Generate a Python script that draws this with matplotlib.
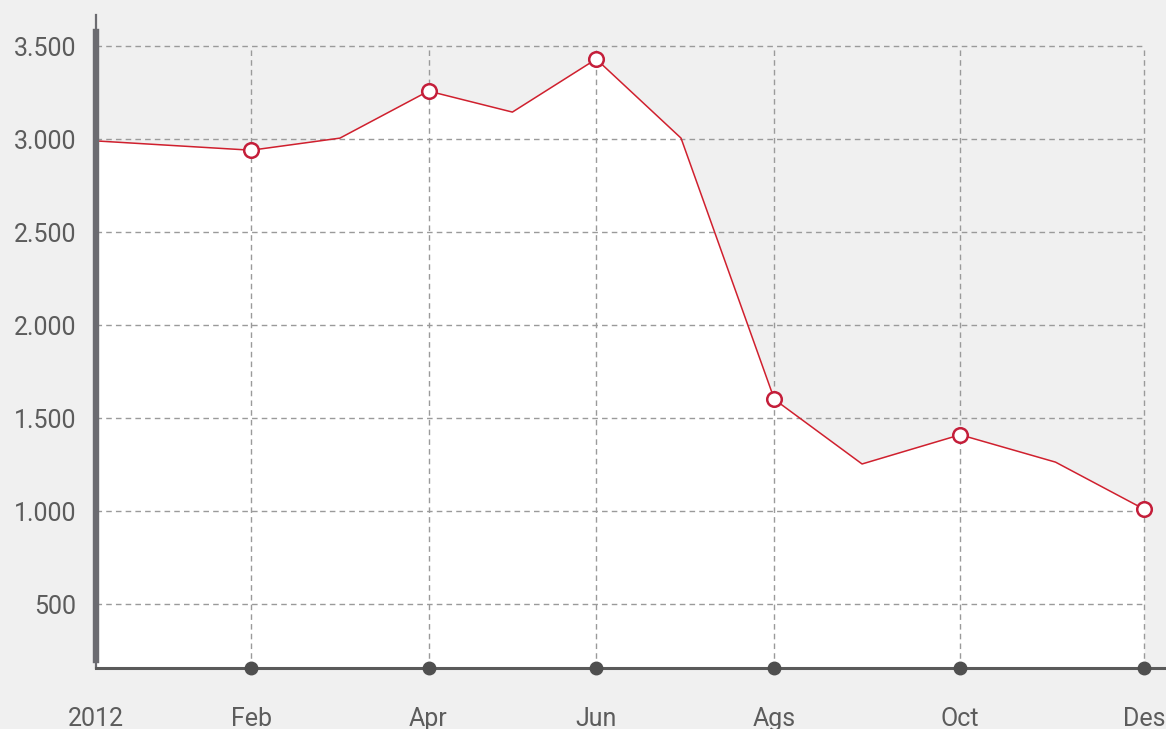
import matplotlib.pyplot as plt
from matplotlib import font_manager

# monthly values, 2012 (x = position along the month axis)
months = ['Jan', 'Feb', 'Mar', 'Apr', 'May', 'Jun',
          'Jul', 'Ags', 'Sep', 'Oct', 'Nov', 'Des']
x_pos = [0.0, 1.63, 2.56, 3.49, 4.37, 5.25, 6.14, 7.12, 8.04, 9.07, 10.07, 11.0]
values = [2990, 2940, 3005, 3258, 3145, 3430, 3005, 1600, 1253, 1410, 1263, 1010]

# labelled months get a marker, a vertical grid line and an axis dot
marked = [1, 3, 5, 7, 9, 11]
tick_labels = ['2012', 'Feb', 'Apr', 'Jun', 'Ags', 'Oct', 'Des']
y_ticks = [500, 1000, 1500, 2000, 2500, 3000, 3500]
y_labels = ['500', '1.000', '1.500', '2.000', '2.500', '3.000', '3.500']

BG = '#f0f0f0'
RED = '#d0202e'
AXIS = '#6b6b70'
GRID = '#9a9a9a'
TEXT = '#5c5c5c'

names = {f.name for f in font_manager.fontManager.ttflist}
family = 'Roboto' if 'Roboto' in names else 'DejaVu Sans'

fig = plt.figure(figsize=(11.66, 7.29), dpi=100, facecolor=BG)
ax = fig.add_axes([96 / 1166, 61 / 729, 1070 / 1166, 653 / 729])
ax.set_facecolor(BG)
ymin, ymax = 156, 3667
ax.set_xlim(0, 11.23)
ax.set_ylim(ymin, ymax)

# white area under the line
ax.fill_between(x_pos, values, ymin, color='white', zorder=1, lw=0)

# dashed grid, limited to the data range
mx = [x_pos[i] for i in marked]
ax.hlines(y_ticks, 0, x_pos[-1], colors=GRID, linestyles=(0, (4, 3)), lw=1, zorder=2)
ax.vlines(mx, ymin, 3500, colors=GRID, linestyles=(0, (4, 3)), lw=1, zorder=2)

# line and open markers
ax.plot(x_pos, values, color=RED, lw=1.1, zorder=3)
ax.plot(mx, [values[i] for i in marked], 'o', ms=10.5, mfc='white', mec='#c41e3a',
        mew=1.8, zorder=4, clip_on=False)

# axes: thin left line with a thick bar, bottom line with dots
for s in ax.spines.values():
    s.set_visible(False)
ax.axvline(0, 0, 1, color=AXIS, lw=1.6, zorder=5, clip_on=False)
ax.axvline(0, 0.012, 0.974, color=AXIS, lw=4.6, zorder=5, clip_on=False)
ax.axhline(ymin, 0, 1, color='#5a5a5a', lw=2.2, zorder=5, clip_on=False)
ax.plot(mx, [ymin] * len(mx), 'o', ms=9, color='#4f4f4f', zorder=6, clip_on=False)

ax.tick_params(length=0)
ax.set_yticks(y_ticks)
ax.set_yticklabels(y_labels, fontsize=18, color=TEXT, fontfamily=family)
ax.tick_params(axis='y', pad=14)
ax.set_xticks([0] + mx)
ax.set_xticklabels(tick_labels, fontsize=18, color=TEXT, fontfamily=family)
ax.tick_params(axis='x', pad=28)

fig.savefig('out.png', dpi=100, facecolor=BG)
